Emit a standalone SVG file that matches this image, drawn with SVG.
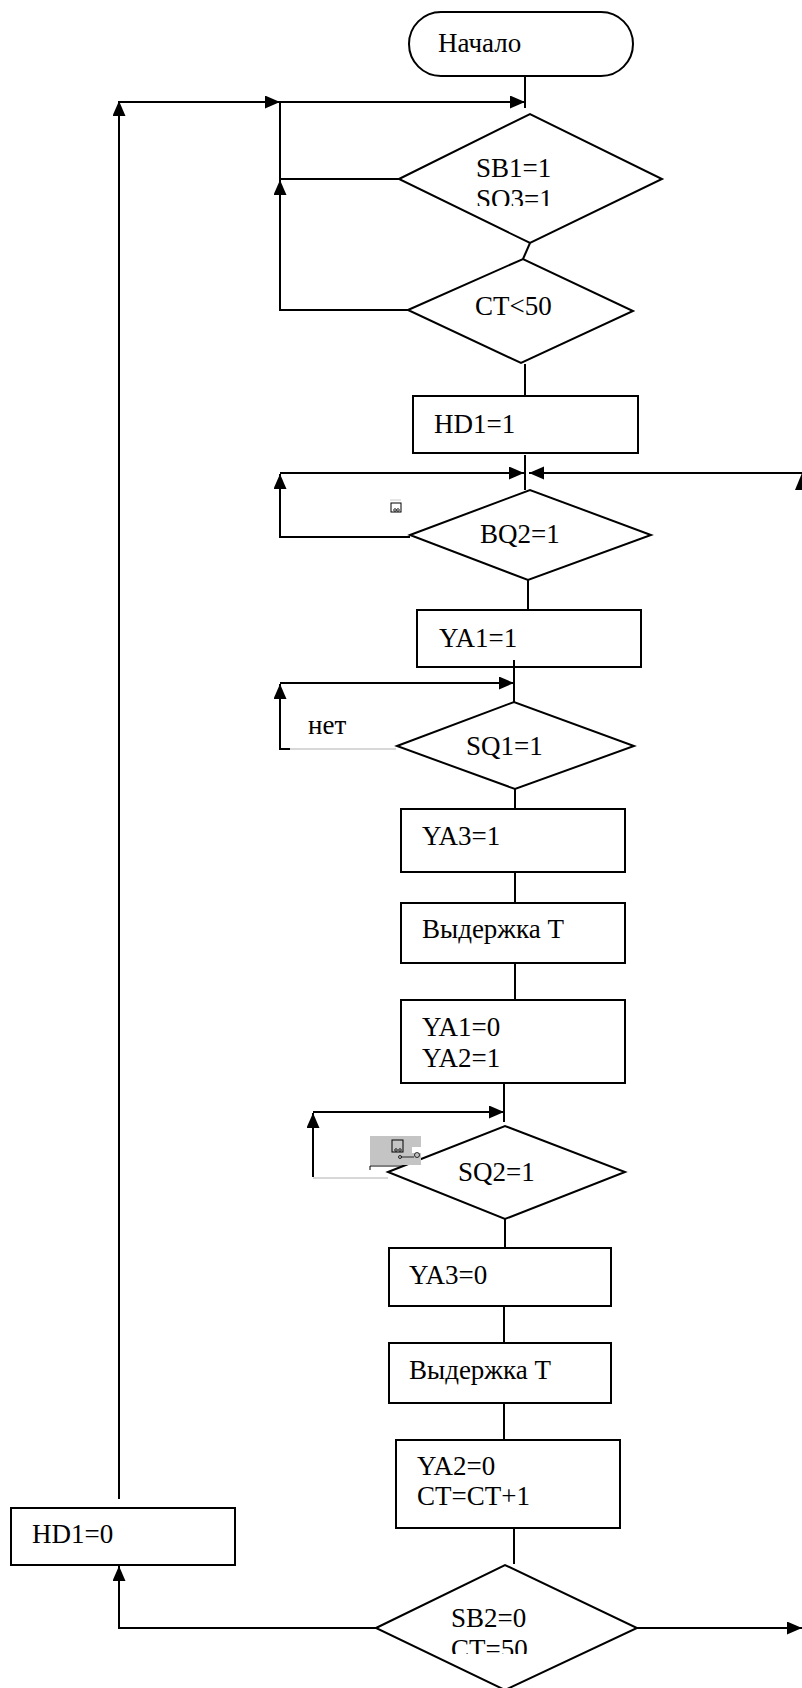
<svg xmlns="http://www.w3.org/2000/svg" width="802" height="1688" viewBox="0 0 802 1688">
<style>
.s{fill:none;stroke:#000;stroke-width:2}
.n{fill:#fff;stroke:#000;stroke-width:2}
.t{font-family:"Liberation Serif","Times New Roman",serif;font-size:27px;fill:#000}
.g{fill:none;stroke:#b0b0b0;stroke-width:1}
</style>
<defs>
<marker id="a" markerUnits="userSpaceOnUse" markerWidth="16" markerHeight="14" refX="15" refY="6.5" orient="auto">
<path d="M0,0 L15,6.5 L0,13 z" fill="#000"/>
</marker>
<clipPath id="c1"><rect x="440" y="185" width="120" height="21"/></clipPath>
<clipPath id="c2"><rect x="420" y="1632" width="120" height="22"/></clipPath>
</defs>
<rect width="802" height="1688" fill="#fff"/>
<g id="connectors">
<line class="s" x1="525" y1="76" x2="525" y2="108"/>
<line class="s" x1="119" y1="1499" x2="119" y2="101" marker-end="url(#a)"/>
<line class="s" x1="119" y1="102" x2="280" y2="102" marker-end="url(#a)"/>
<line class="s" x1="280" y1="102" x2="525" y2="102" marker-end="url(#a)"/>
<line class="s" x1="399" y1="179" x2="280" y2="179"/>
<line class="s" x1="280" y1="310" x2="280" y2="180" marker-end="url(#a)"/>
<line class="s" x1="280" y1="180" x2="280" y2="102"/>
<line class="s" x1="408" y1="310" x2="279" y2="310"/>
<line class="s" x1="530" y1="243" x2="523" y2="259"/>
<line class="s" x1="525" y1="364" x2="525" y2="396"/>
<line class="s" x1="525" y1="455" x2="525" y2="490"/>
<line class="s" x1="280" y1="473" x2="524" y2="473" marker-end="url(#a)"/>
<line class="s" x1="802" y1="473" x2="529" y2="473" marker-end="url(#a)"/>
<path d="M795,490 L802,473 L809,490 z" fill="#000"/>
<line class="s" x1="410" y1="537" x2="279" y2="537"/>
<line class="s" x1="280" y1="537" x2="280" y2="474" marker-end="url(#a)"/>
<line class="s" x1="528" y1="580" x2="528" y2="610"/>
<line class="s" x1="514" y1="662" x2="514" y2="702"/>
<line class="s" x1="280" y1="683" x2="514" y2="683" marker-end="url(#a)"/>
<line class="s" x1="280" y1="749" x2="280" y2="684" marker-end="url(#a)"/>
<line class="s" x1="279" y1="749" x2="290" y2="749"/>
<line class="g" x1="290" y1="749" x2="396" y2="749"/>
<line class="s" x1="515" y1="789" x2="515" y2="809"/>
<line class="s" x1="515" y1="872" x2="515" y2="903"/>
<line class="s" x1="515" y1="963" x2="515" y2="1000"/>
<line class="s" x1="504" y1="1083" x2="504" y2="1122"/>
<line class="s" x1="313" y1="1112" x2="504" y2="1112" marker-end="url(#a)"/>
<line class="s" x1="313" y1="1177" x2="313" y2="1113" marker-end="url(#a)"/>
<line class="g" x1="313" y1="1178" x2="388" y2="1178"/>
<line class="s" x1="505" y1="1219" x2="505" y2="1248"/>
<line class="s" x1="504" y1="1306" x2="504" y2="1343"/>
<line class="s" x1="504" y1="1403" x2="504" y2="1440"/>
<line class="s" x1="514" y1="1528" x2="514" y2="1564"/>
<line class="s" x1="637" y1="1628" x2="802" y2="1628" marker-end="url(#a)"/>
<polyline class="s" points="376,1628 119,1628 119,1566" marker-end="url(#a)"/>
</g>
<g id="start"><rect class="n" x="409" y="12" width="224" height="64" rx="32"/><text class="t" x="438" y="52">Начало</text></g>
<g id="d-sb1"><polygon class="n" points="399,179 530,114 662,179 530,243"/><text class="t" x="476" y="177">SB1=1</text><text class="t" x="476" y="208" clip-path="url(#c1)">SO3=1</text></g>
<g id="d-ct50"><polygon class="n" points="408,310 523,259 633,311 521,363"/><text class="t" x="475" y="315">CT&lt;50</text></g>
<g id="b-hd1"><rect class="n" x="413" y="396" width="225" height="57"/><text class="t" x="434" y="433">HD1=1</text></g>
<g id="d-bq2"><polygon class="n" points="410,535 530,490 651,535 528,580"/><text class="t" x="480" y="543">BQ2=1</text></g>
<g id="icon1"><rect x="391" y="503" width="10" height="9" fill="#fff" stroke="#000" stroke-width="1"/><circle cx="395" cy="510" r="1.3" fill="none" stroke="#000" stroke-width="0.8"/><circle cx="398" cy="510" r="1.3" fill="none" stroke="#000" stroke-width="0.8"/><line x1="390" y1="500" x2="401" y2="500" stroke="#ccc" stroke-width="1"/></g>
<g id="b-ya1"><rect class="n" x="417" y="610" width="224" height="57"/><text class="t" x="439" y="647">YA1=1</text></g>
<line class="s" x1="514" y1="660" x2="514" y2="668"/>
<g id="lbl-net"><text class="t" x="308" y="734">нет</text></g>
<g id="d-sq1"><polygon class="n" points="397,746 514,702 634,746 515,789"/><text class="t" x="466" y="755">SQ1=1</text></g>
<g id="b-ya3-1"><rect class="n" x="401" y="809" width="224" height="63"/><text class="t" x="422" y="845">YA3=1</text></g>
<g id="b-delay1"><rect class="n" x="401" y="903" width="224" height="60"/><text class="t" x="422" y="938">Выдержка T</text></g>
<g id="b-ya1-ya2"><rect class="n" x="401" y="1000" width="224" height="83"/><text class="t" x="422" y="1036">YA1=0</text><text class="t" x="422" y="1067">YA2=1</text></g>
<g id="d-sq2"><polygon class="n" points="388,1172 505,1126 625,1172 505,1219"/><text class="t" x="458" y="1181">SQ2=1</text></g>
<g id="icon2"><rect x="370" y="1136" width="51" height="29" fill="#c4c4c4"/><rect x="392" y="1140" width="11" height="12" fill="none" stroke="#000" stroke-width="1"/><circle cx="396" cy="1150" r="1.3" fill="none" stroke="#000" stroke-width="0.8"/><circle cx="400" cy="1150" r="1.3" fill="none" stroke="#000" stroke-width="0.8"/><rect x="412" y="1147" width="10" height="6" fill="#fff"/><circle cx="400" cy="1157" r="1.5" fill="none" stroke="#000" stroke-width="0.8"/><circle cx="417" cy="1155" r="2.5" fill="none" stroke="#000" stroke-width="0.8"/><line x1="401" y1="1157" x2="414" y2="1157" stroke="#000" stroke-width="0.8"/><line x1="370" y1="1166" x2="403" y2="1166" stroke="#000" stroke-width="1"/><line x1="370" y1="1166" x2="370" y2="1170" stroke="#000" stroke-width="1"/></g>
<g id="b-ya3-0"><rect class="n" x="389" y="1248" width="222" height="58"/><text class="t" x="409" y="1284">YA3=0</text></g>
<g id="b-delay2"><rect class="n" x="389" y="1343" width="222" height="60"/><text class="t" x="409" y="1379">Выдержка T</text></g>
<g id="b-ya2-ct"><rect class="n" x="396" y="1440" width="224" height="88"/><text class="t" x="417" y="1475">YA2=0</text><text class="t" x="417" y="1505">CT=CT+1</text></g>
<g id="d-sb2"><polygon class="n" points="376,1628 505,1565 637,1628 505,1690"/><text class="t" x="451" y="1627">SB2=0</text><text class="t" x="451" y="1658" clip-path="url(#c2)">CT=50</text></g>
<g id="b-hd0"><rect class="n" x="11" y="1508" width="224" height="57"/><text class="t" x="32" y="1543">HD1=0</text></g>
</svg>
